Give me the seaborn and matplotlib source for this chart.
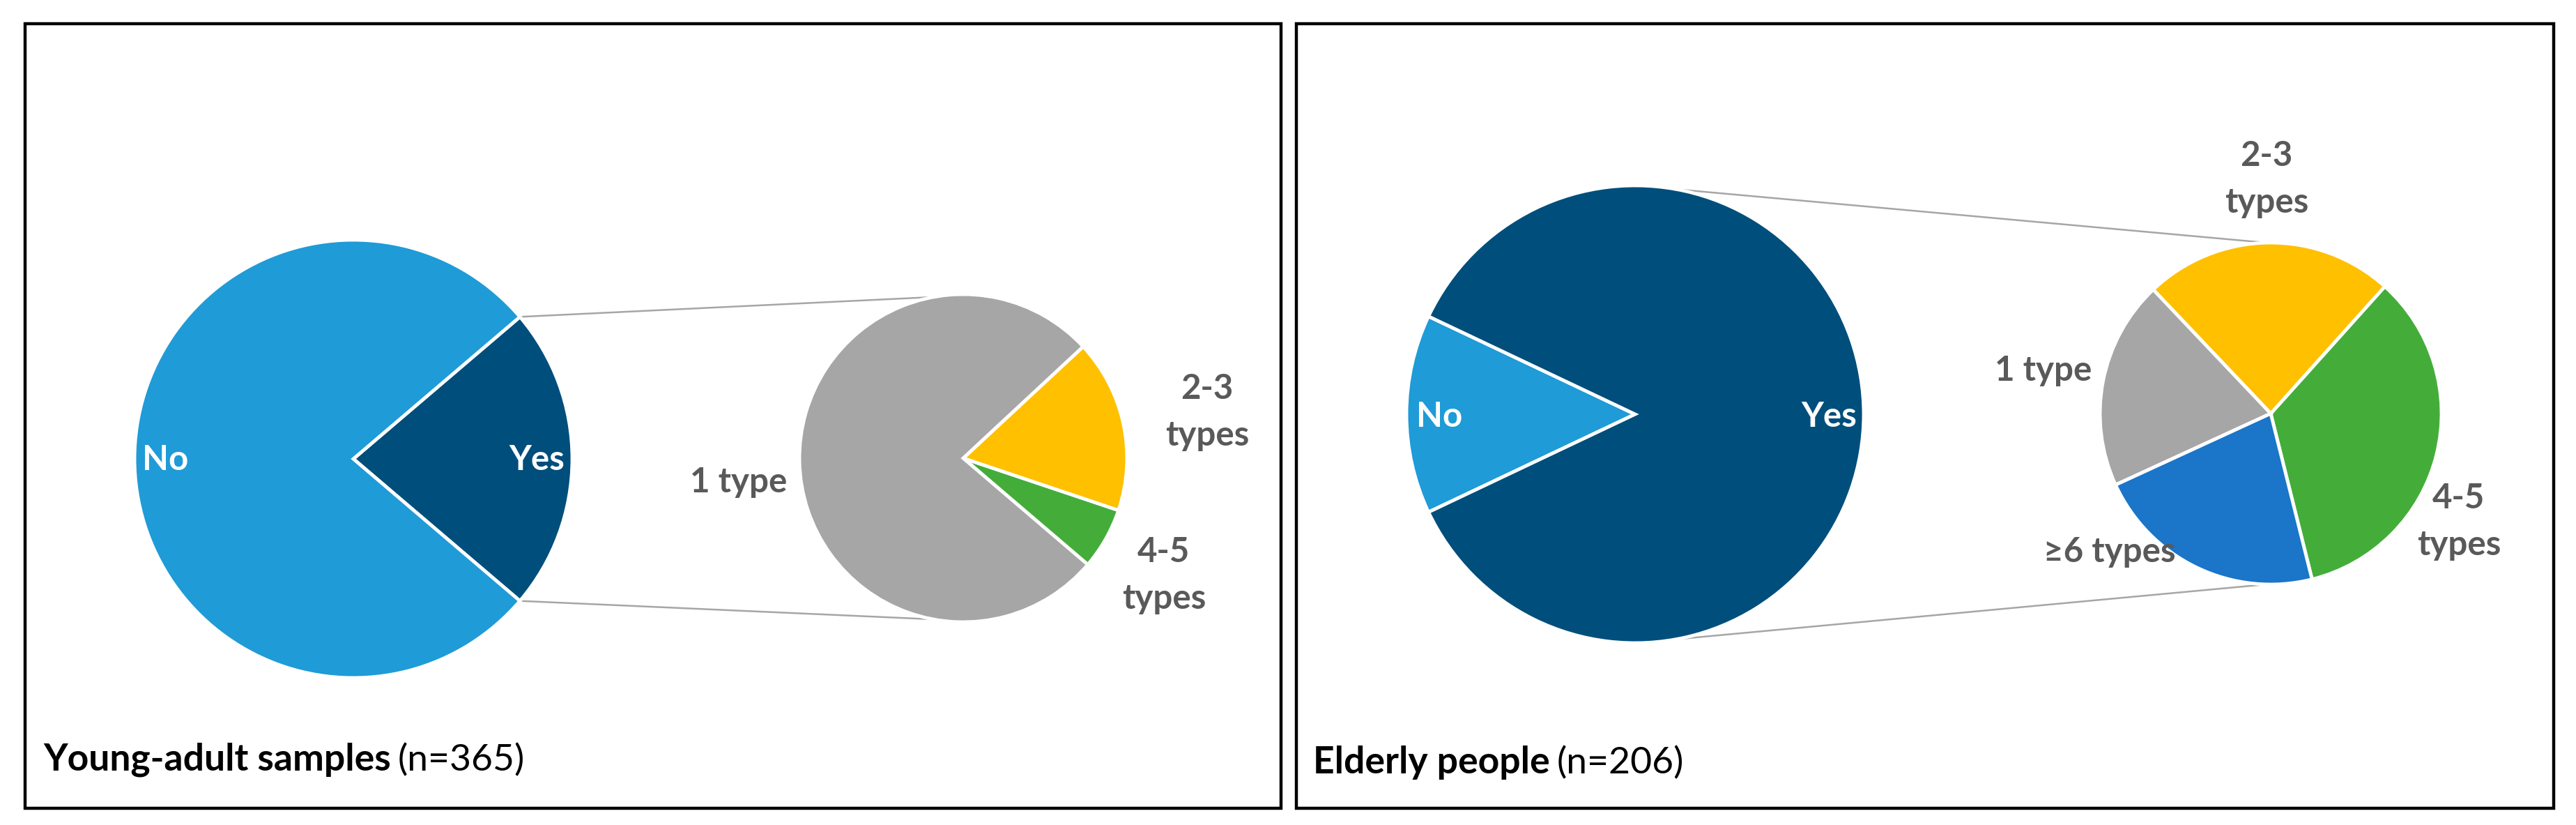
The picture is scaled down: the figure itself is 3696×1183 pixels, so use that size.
import numpy as np
import matplotlib
matplotlib.use("Agg")
import matplotlib.pyplot as plt
import seaborn as sns
from matplotlib.patches import Rectangle

# ---- data ----
young_main_labels = ["Yes", "No"]
young_main_counts = [82, 283]
young_sub_labels = ["4-5\ntypes", "2-3\ntypes", "1 type"]
young_sub_counts = [5, 14, 63]

elder_main_labels = ["No", "Yes"]
elder_main_counts = [29, 177]
elder_sub_labels = ["4-5\ntypes", "2-3\ntypes", "1 type", "≥6 types"]
elder_sub_counts = [61, 42, 35, 39]

panel_titles = ["Young-adult samples", "Elderly people"]
panel_n = ["(n=365)", "(n=206)"]

# colours
c_no = "#1F9BD7"
c_yes = "#004E7C"
c_one = "#A6A6A6"
c_23 = "#FFC000"
c_45 = "#44AD3A"
c_6 = "#1B75C9"
lab_col = "#595959"

sns.set_theme(style="white")
plt.rcParams["font.family"] = ["Lato", "DejaVu Sans"]

W, H = 3696, 1183
fig = plt.figure(figsize=(W / 100, H / 100), dpi=100)
ax = fig.add_axes([0, 0, 1, 1])
ax.set_xlim(0, W)
ax.set_ylim(0, H)
ax.set_aspect("equal")
ax.axis("off")

wp = dict(edgecolor="white", linewidth=3.5)
fs = 35.5      # slice labels
fs_cap = 38.5  # panel captions
ls = 1.62


def point(c, r, ang):
    a = np.deg2rad(ang)
    return c[0] + r * np.cos(a), c[1] + r * np.sin(a)


# ---- left panel ----
bigc, bigr = (507, 525), 314
smc, smr = (1382, 526), 235
yes_ang = young_main_counts[0] / sum(young_main_counts) * 360
ax.pie(young_main_counts, colors=[c_yes, c_no], center=bigc, radius=bigr,
       startangle=-yes_ang / 2, wedgeprops=wp, frame=True)
ax.pie(young_sub_counts, colors=[c_45, c_23, c_one], center=smc, radius=smr,
       startangle=-40.5, wedgeprops=wp, frame=True)
for s in (1, -1):
    p1 = point(bigc, bigr, s * yes_ang / 2)
    p2 = point(smc, smr, s * 100.5)
    ax.plot([p1[0], p2[0]], [p1[1], p2[1]], color="#A6A6A6", lw=1.8, zorder=0)

ax.text(237, 524, "No", color="white", fontsize=fs, fontweight="bold", ha="center", va="center")
ax.text(770, 524, "Yes", color="white", fontsize=fs, fontweight="bold", ha="center", va="center")
ax.text(1060, 491, young_sub_labels[2], color=lab_col, fontsize=fs, fontweight="bold", ha="center", va="center")
ax.text(1732, 592, young_sub_labels[1], color=lab_col, fontsize=fs, fontweight="bold", ha="center", va="center", linespacing=ls)
ax.text(1670, 358, young_sub_labels[0], color=lab_col, fontsize=fs, fontweight="bold", ha="center", va="center", linespacing=ls)

# ---- right panel ----
bigc2, bigr2 = (2346, 589), 328
smc2, smr2 = (3258, 590), 245
no_ang = elder_main_counts[0] / sum(elder_main_counts) * 360
ax.pie(elder_main_counts, colors=[c_no, c_yes], center=bigc2, radius=bigr2,
       startangle=180 - no_ang / 2, wedgeprops=wp, frame=True)
ax.pie(elder_sub_counts, colors=[c_45, c_23, c_one, c_6], center=smc2, radius=smr2,
       startangle=-76, wedgeprops=wp, frame=True)
for s in (1, -1):
    p1 = point(bigc2, bigr2, s * 79.6)
    p2 = point(smc2, smr2, s * 91.4)
    ax.plot([p1[0], p2[0]], [p1[1], p2[1]], color="#A6A6A6", lw=1.8, zorder=0)

ax.text(2065, 586, "No", color="white", fontsize=fs, fontweight="bold", ha="center", va="center")
ax.text(2624, 586, "Yes", color="white", fontsize=fs, fontweight="bold", ha="center", va="center")
ax.text(3252, 926, elder_sub_labels[1], color=lab_col, fontsize=fs, fontweight="bold", ha="center", va="center", linespacing=ls)
ax.text(2932, 652, elder_sub_labels[2], color=lab_col, fontsize=fs, fontweight="bold", ha="center", va="center")
ax.text(3528, 435, elder_sub_labels[0], color=lab_col, fontsize=fs, fontweight="bold", ha="center", va="center", linespacing=ls)
ax.text(3027, 391, elder_sub_labels[3], color=lab_col, fontsize=fs, fontweight="bold", ha="center", va="center",
        family=["Lato", "DejaVu Sans"])

# ---- panel frames ----
for x0, x1 in [(36, 1838), (1860, 3664)]:
    ax.add_patch(Rectangle((x0, 24), x1 - x0, 1125, fill=False, edgecolor="black", lw=3.2, zorder=5))

ax.set_xlim(0, W)
ax.set_ylim(0, H)

# ---- captions (bold part + normal part) ----
fig.canvas.draw()
r = fig.canvas.get_renderer()
for (cx, cy), title, n in zip([(62, 78), (1884, 74)], panel_titles, panel_n):
    t = ax.text(cx, cy, title, fontsize=fs_cap, fontweight="bold", color="black", ha="left", va="baseline")
    bb = t.get_window_extent(renderer=r)
    xend = ax.transData.inverted().transform((bb.x1, bb.y0))[0]
    ax.text(xend + 10, cy, n, fontsize=fs_cap, color="black", ha="left", va="baseline")

fig.savefig("out.png", dpi=100, facecolor="white")
